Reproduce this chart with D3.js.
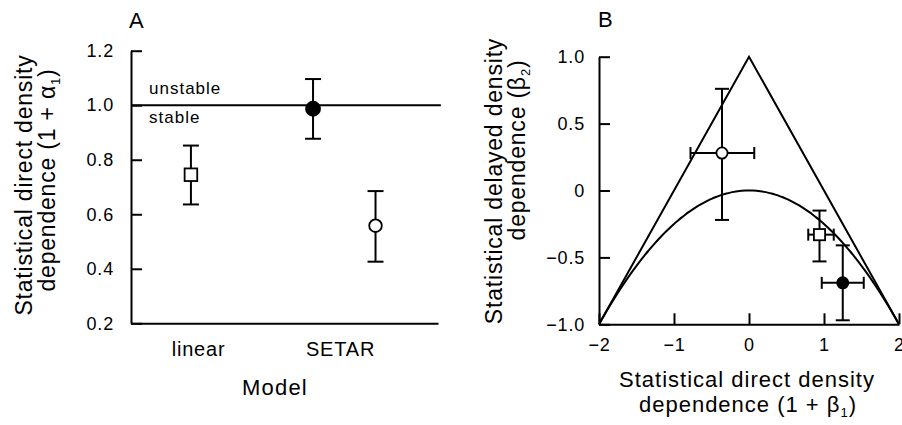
<!DOCTYPE html>
<html>
<head>
<meta charset="utf-8">
<script src="https://cdn.jsdelivr.net/npm/d3@7"></script>
<style>
  body { margin: 0; background: #fff; }
  svg { display: block; font-family: "Liberation Sans", Arial, Helvetica, sans-serif; }
</style>
</head>
<body>
<div class="chart"></div>
<script>
// panel A: direct density dependence per model
const models = ["linear", "SETAR"];
const modelTicks = [1, 2];
const markers = ["square", "filled", "open"];
const alphaPos = [0.95, 1.81, 2.25];
const alphaEst = [0.745, 0.987, 0.558];
const alphaLo = [0.636, 0.877, 0.426];
const alphaHi = [0.852, 1.096, 0.685];
const aTicks = [0.2, 0.4, 0.6, 0.8, 1.0, 1.2];
const stableLine = 1.0;

// panel B: (1 + beta1, beta2) with error bars, same marker order
const beta1Est = [0.94, 1.25, -0.36];
const beta1Lo = [0.79, 0.97, -0.78];
const beta1Hi = [1.13, 1.53, 0.07];
const beta2Est = [-0.33, -0.69, 0.28];
const beta2Lo = [-0.53, -0.97, -0.22];
const beta2Hi = [-0.15, -0.41, 0.76];
const bXTicks = [-2, -1, 0, 1, 2];
const bYTicks = [-1, -0.5, 0, 0.5, 1];
const triangle = [[-2, -1], [0, 1], [2, -1]];

const width = 902, height = 425;

const svg = d3.select('.chart').append('svg')
    .attr("width", width)
    .attr("height", height);

svg.append("rect").attr("width", width).attr("height", height).attr("fill", "white");

// ---------- panel A ----------
const xA = d3.scaleLinear().domain([0.528, 2.69]).range([131, 438]);
const yA = d3.scaleLinear().domain([0.2, 1.2]).range([323.3, 50.7]);

svg.append("g")
    .attr("class", "axis y-axis")
    .attr("transform", `translate(${xA(0.528)},0)`)
    .call(d3.axisLeft(yA).tickValues(aTicks).tickSize(-11).tickSizeOuter(0)
        .tickPadding(17).tickFormat(d3.format(".1f")))
    .call(styleAxis, 18);

svg.append("g")
    .attr("class", "axis x-axis")
    .attr("transform", `translate(0,${yA(0.2)})`)
    .call(d3.axisBottom(xA).tickValues(modelTicks).tickSize(0).tickSizeOuter(0)
        .tickPadding(19).tickFormat((d, i) => models[i]))
    .call(styleAxis, 20);

svg.append("line")
    .attr("x1", xA(0.528)).attr("x2", xA(2.71))
    .attr("y1", yA(stableLine)).attr("y2", yA(stableLine))
    .attr("stroke", "black").attr("stroke-width", 2);

svg.append("text").attr("x", 149).attr("y", yA(stableLine) - 11)
    .attr("font-size", 17).attr("letter-spacing", 1).text("unstable");
svg.append("text").attr("x", 149).attr("y", yA(stableLine) + 18)
    .attr("font-size", 17).attr("letter-spacing", 1).text("stable");

const gA = svg.append("g");
alphaEst.forEach((v, i) => {
  const x = xA(alphaPos[i]);
  vBar(gA, x, yA(alphaLo[i]), yA(alphaHi[i]), 8);
  marker(gA, markers[i], x, yA(v), markers[i] === "filled" ? 7 : 6.3);
});

svg.append("text").attr("x", 129).attr("y", 28)
    .attr("font-size", 22).text("A");

svg.append("text").attr("x", 275).attr("y", 395)
    .attr("text-anchor", "middle").attr("font-size", 22).attr("letter-spacing", 1.2)
    .text("Model");

rotText(32, 185, "Statistical direct density");
rotText(55, 180, "dependence (1 + α", "1", ")");

// ---------- panel B ----------
const xB = d3.scaleLinear().domain([-2, 2]).range([599, 899]);
const yB = d3.scaleLinear().domain([-1, 1]).range([324.3, 56.7]);

const fmtB = d => d === 0 ? "0" : d3.format(".1f")(d);

svg.append("g")
    .attr("class", "axis y-axis")
    .attr("transform", `translate(${xB(-2)},0)`)
    .call(d3.axisLeft(yB).tickValues(bYTicks).tickSize(-11).tickSizeOuter(0)
        .tickPadding(14).tickFormat(fmtB))
    .call(styleAxis, 18);

svg.append("g")
    .attr("class", "axis x-axis")
    .attr("transform", `translate(0,${yB(-1)})`)
    .call(d3.axisBottom(xB).tickValues(bXTicks).tickSize(-11).tickSizeOuter(0)
        .tickPadding(14).tickFormat(d3.format("d")))
    .call(styleAxis, 18);

const line = d3.line().x(d => xB(d[0])).y(d => yB(d[1]));

svg.append("path")
    .attr("d", line(triangle))
    .attr("fill", "none").attr("stroke", "black").attr("stroke-width", 2)
    .attr("stroke-linejoin", "miter");

// boundary between real and complex roots: beta2 = -(1 + beta1)^2 / 4
const parab = d3.range(-2, 2.0001, 0.05).map(b => [b, -b * b / 4]);
svg.append("path")
    .attr("d", line.curve(d3.curveBasis)(parab))
    .attr("fill", "none").attr("stroke", "black").attr("stroke-width", 2);

const gB = svg.append("g");
beta1Est.forEach((v, i) => {
  const x = xB(v), y = yB(beta2Est[i]);
  vBar(gB, x, yB(beta2Lo[i]), yB(beta2Hi[i]), 7);
  hBar(gB, y, xB(beta1Lo[i]), xB(beta1Hi[i]), 6);
  marker(gB, markers[i], x, y, 5.6);
});

svg.append("text").attr("x", 598).attr("y", 27)
    .attr("font-size", 22).text("B");

svg.append("text").attr("x", 747).attr("y", 387)
    .attr("text-anchor", "middle").attr("font-size", 22).attr("letter-spacing", 1)
    .text("Statistical direct density");
subText(svg.append("text").attr("x", 748).attr("y", 412)
    .attr("text-anchor", "middle").attr("font-size", 22).attr("letter-spacing", 1),
    "dependence (1 + β", "1", ")");

rotText(502, 181, "Statistical delayed density");
rotText(525, 150, "dependence (β", "2", ")");

// ---------- helpers ----------
function styleAxis(g, size) {
  g.select(".domain").attr("stroke-width", 2);
  g.selectAll(".tick line").attr("stroke-width", 2);
  g.selectAll(".tick text")
    .attr("font-size", size)
    .attr("letter-spacing", 0.8)
    .attr("fill", "black");
  g.attr("font-family", null);
}

function vBar(g, x, y1, y2, cap) {
  g.append("line").attr("x1", x).attr("x2", x).attr("y1", y1).attr("y2", y2)
    .attr("stroke", "black").attr("stroke-width", 2);
  [y1, y2].forEach(y => g.append("line")
    .attr("x1", x - cap).attr("x2", x + cap).attr("y1", y).attr("y2", y)
    .attr("stroke", "black").attr("stroke-width", 2));
}

function hBar(g, y, x1, x2, cap) {
  g.append("line").attr("x1", x1).attr("x2", x2).attr("y1", y).attr("y2", y)
    .attr("stroke", "black").attr("stroke-width", 2);
  [x1, x2].forEach(x => g.append("line")
    .attr("x1", x).attr("x2", x).attr("y1", y - cap).attr("y2", y + cap)
    .attr("stroke", "black").attr("stroke-width", 2));
}

function marker(g, type, x, y, r) {
  if (type === "square") {
    g.append("rect")
      .attr("x", x - r).attr("y", y - r).attr("width", 2 * r).attr("height", 2 * r)
      .attr("fill", "white").attr("stroke", "black").attr("stroke-width", 1.8);
  } else {
    g.append("circle")
      .attr("cx", x).attr("cy", y).attr("r", r)
      .attr("fill", type === "filled" ? "black" : "white")
      .attr("stroke", "black").attr("stroke-width", 1.8);
  }
}

function subText(t, main, sub, tail) {
  t.append("tspan").text(main);
  if (sub) {
    t.append("tspan").attr("font-size", 13).attr("dy", 5).text(sub);
    t.append("tspan").attr("dy", -5).text(tail);
  }
  return t;
}

function rotText(x, y, main, sub, tail) {
  const t = svg.append("text")
    .attr("transform", `translate(${x},${y}) rotate(-90)`)
    .attr("text-anchor", "middle")
    .attr("font-size", 23)
    .attr("letter-spacing", 0.8);
  subText(t, main, sub, tail);
}
</script>
</body>
</html>
